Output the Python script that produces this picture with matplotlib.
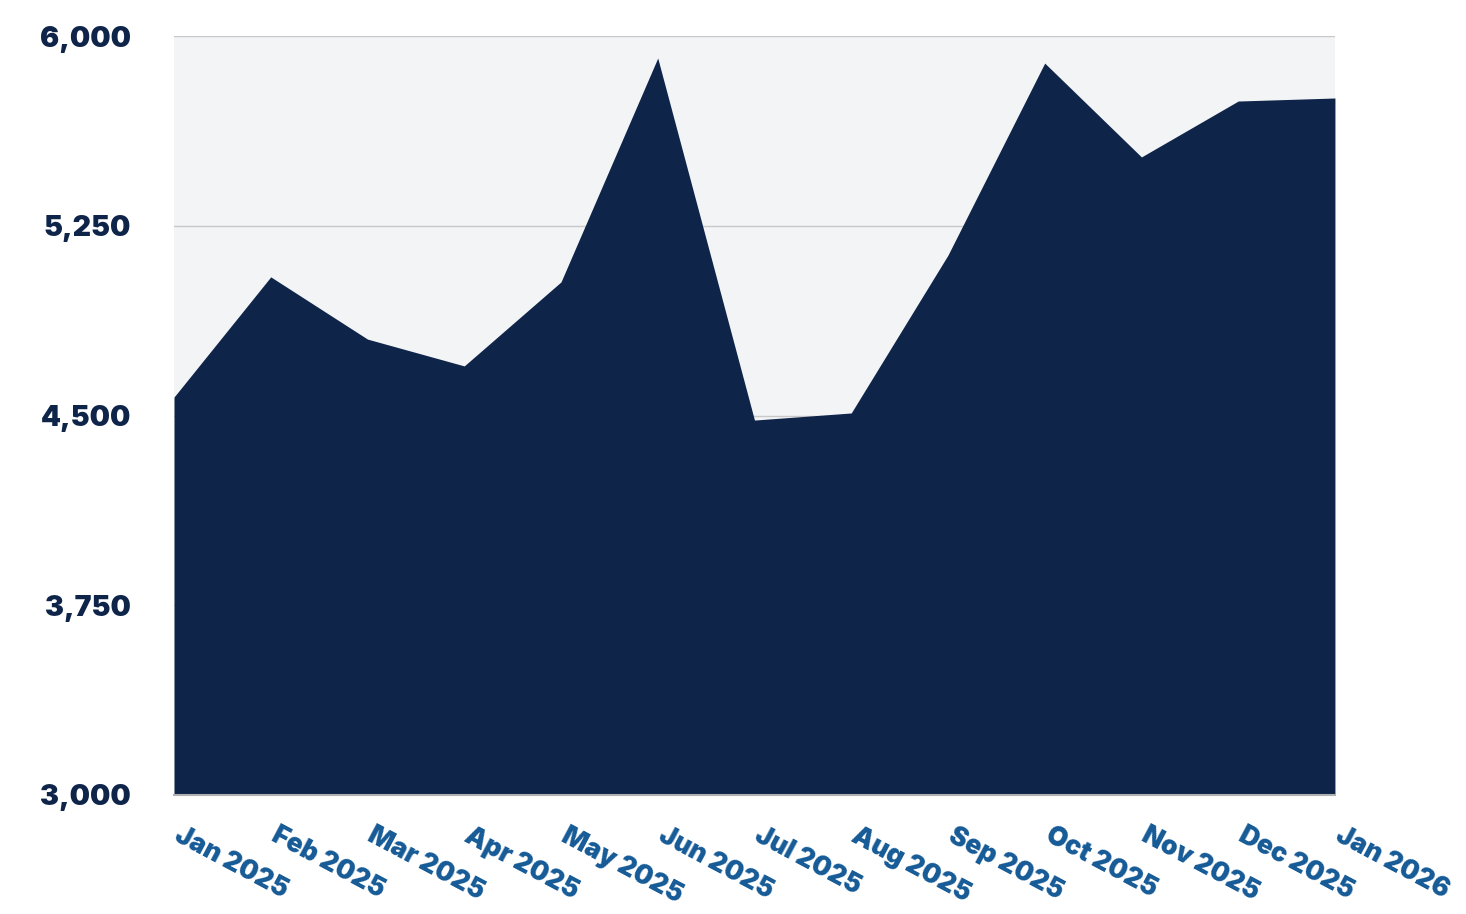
import matplotlib
matplotlib.use("Agg")
import matplotlib.pyplot as plt
from matplotlib.ticker import FuncFormatter

months = ["Jan 2025", "Feb 2025", "Mar 2025", "Apr 2025", "May 2025", "Jun 2025",
          "Jul 2025", "Aug 2025", "Sep 2025", "Oct 2025", "Nov 2025", "Dec 2025", "Jan 2026"]
values = [4573, 5048, 4802, 4696, 5028, 5913, 4482, 4510, 5134, 5893, 5522, 5743, 5755]
yticks = [3000, 3750, 4500, 5250, 6000]

fig = plt.figure(figsize=(14.66, 9.14), dpi=100)
ax = fig.add_axes([0.1187, 0.1302, 0.7919, 0.8304])
ax.set_facecolor("#f3f4f6")
x = list(range(len(months)))
ax.fill_between(x, 3000, values, color="#0e2449", linewidth=0, zorder=3)
ax.set_xlim(0, len(months) - 1)
ax.set_ylim(3000, 6000)
ax.set_yticks(yticks)
ax.yaxis.set_major_formatter(FuncFormatter(lambda v, p: f"{int(v):,}"))
ax.grid(axis="y", color="#c8c8c8", linewidth=1, zorder=1)
ax.set_axisbelow(True)
for s in ["top", "right", "left"]:
    ax.spines[s].set_visible(False)
ax.spines["bottom"].set_color("#b0b0b0")
ax.spines["bottom"].set_linewidth(1.5)
ax.spines["bottom"].set_zorder(4)
ax.tick_params(axis="y", length=0, pad=31, labelsize=20.5, labelcolor="#0e2449")
for lab in ax.get_yticklabels():
    lab.set_fontfamily("Inter")
    lab.set_fontweight("black")
ax.set_xticks(x)
ax.set_xticklabels(months, rotation=-28, ha="left", va="top", rotation_mode="anchor",
                   fontsize=19, color="#155a96", fontfamily="Inter", fontweight="black")
ax.tick_params(axis="x", length=0, pad=20)
for lab in ax.get_xticklabels():
    lab.set_x(lab.get_position()[0])
fig.canvas.draw()
from matplotlib.transforms import ScaledTranslation
off = ScaledTranslation(6 / 72, 0, fig.dpi_scale_trans)
for lab in ax.get_xticklabels():
    lab.set_transform(lab.get_transform() + off)
fig.savefig("out.png", dpi=100)
